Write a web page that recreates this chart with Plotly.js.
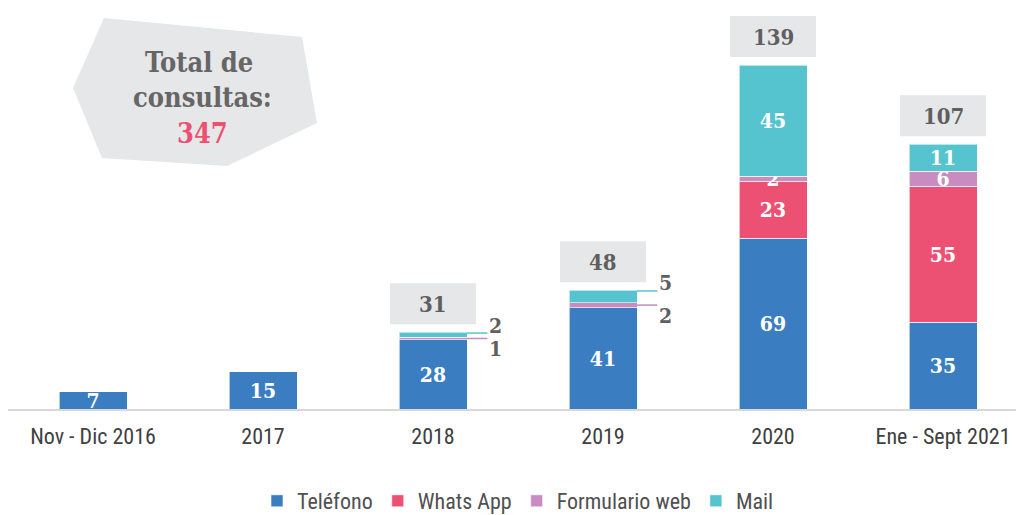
<!DOCTYPE html>
<html>
<head>
<meta charset="utf-8">
<script src="https://cdn.plot.ly/plotly-3.0.1.min.js"></script>
<style>html,body{margin:0;padding:0;background:#fff;}#chart{width:1016px;height:515px;}</style>
</head>
<body>
<div id="chart"></div>
<script>
const categories = ["Nov - Dic 2016", "2017", "2018", "2019", "2020", "Ene - Sept 2021"];
const telefono = [7, 15, 28, 41, 69, 35];
const whatsapp = [0, 0, 0, 0, 23, 55];
const formulario = [0, 0, 1, 2, 2, 6];
const mail = [0, 0, 2, 5, 45, 11];
const seriesNames = ["Teléfono", "Whats App", "Formulario web", "Mail"];
const totalConsultas = 347;

const seriesValues = [telefono, whatsapp, formulario, mail];
const colors = ["#3A7DC1", "#EC5073", "#C88CC0", "#55C4CE"];
const totals = categories.map((c, i) => seriesValues.reduce((s, arr) => s + arr[i], 0));

const W = 1016, H = 515, L = 8, T = 0, B = 106;
const plotW = W - L, plotH = H - T - B;
const pxPerUnitX = 170;
const yMax = 165.3;
const pxPerUnitY = plotH / yMax;
const px = (x) => (x - L) / plotW;
const py = (y) => (plotH + T - y) / plotH;

const serif = "DejaVu Serif Condensed, DejaVu Serif, serif";
const narrow = "Liberation Sans Narrow, Roboto Condensed, Arial Narrow, sans-serif";

function isOutside(si, i) {
  const v = seriesValues[si][i];
  return v > 0 && v < 6 && totals[i] < 100 && si > 0;
}

const traces = seriesValues.map((vals, si) => ({
  type: "bar",
  name: seriesNames[si],
  x: categories,
  y: vals,
  width: 0.4,
  marker: {color: colors[si], line: {color: "rgba(255,255,255,0.6)", width: 1}},
  text: vals.map((v, i) => (v > 0 && !isOutside(si, i)) ? String(v) : ""),
  textposition: "inside",
  insidetextanchor: "middle",
  constraintext: "none",
  textangle: 0,
  textfont: {family: serif, size: 21, color: "#ffffff", weight: 700},
  hoverinfo: "name+y"
}));

const shapes = [];
const annotations = [];

const poly = [[104,18],[302,37],[317,123],[227,166],[102,158],[73,88]];
shapes.push({
  type: "path", xref: "paper", yref: "paper",
  path: "M " + poly.map(p => px(p[0]).toFixed(4) + " " + py(p[1]).toFixed(4)).join(" L ") + " Z",
  fillcolor: "#E6E7E8", line: {width: 0}, layer: "below"
});
[["Total de", 199, 62, "#666666"], ["consultas:", 202, 97, "#666666"], [String(totalConsultas), 202, 133, "#EC5073"]].forEach(t => {
  annotations.push({xref: "paper", yref: "paper", x: px(t[1]), y: py(t[2]), text: "<b>" + t[0] + "</b>",
    showarrow: false, xanchor: "center", yanchor: "middle", font: {family: serif, size: 27, color: t[3]}});
});

const gapU = 8 / pxPerUnitY, boxU = 41 / pxPerUnitY;
categories.forEach((c, i) => {
  const nonZero = seriesValues.filter(a => a[i] > 0).length;
  if (nonZero < 2) return;
  shapes.push({type: "rect", xref: "x", yref: "y", x0: i - 0.253, x1: i + 0.253,
    y0: totals[i] + gapU, y1: totals[i] + gapU + boxU, fillcolor: "#E6E7E8", line: {width: 0}, layer: "below"});
  annotations.push({xref: "x", yref: "y", x: i, y: totals[i] + gapU + boxU / 2, text: "<b>" + totals[i] + "</b>",
    showarrow: false, xanchor: "center", yanchor: "middle", font: {family: serif, size: 22, color: "#5F5F5F"}});
});

categories.forEach((c, i) => {
  let base = 0;
  seriesValues.forEach((arr, si) => {
    const v = arr[i];
    if (isOutside(si, i)) {
      const isTop = (si === seriesValues.length - 1);
      const ly = isTop ? base + v - 0.3 : base + v / 2;
      shapes.push({type: "line", xref: "x", yref: "y", x0: i + 0.2, x1: i + 0.32, y0: ly, y1: ly,
        line: {color: colors[si], width: 1.5}});
      annotations.push({xref: "x", yref: "y", x: i + 0.37, y: ly, text: "<b>" + v + "</b>", showarrow: false,
        xanchor: "center", yanchor: "middle", yshift: isTop ? 8 : -10,
        font: {family: serif, size: 21, color: "#5F5F5F"}});
    }
    base += v;
  });
});

const layout = {
  width: W, height: H,
  margin: {l: L, r: 0, t: T, b: B, pad: 0, autoexpand: false},
  paper_bgcolor: "#ffffff", plot_bgcolor: "#ffffff",
  barmode: "stack",
  showlegend: true,
  legend: {orientation: "h", x: px(518), xanchor: "center", y: py(501), yanchor: "middle",
    font: {family: narrow, size: 22, color: "#505050"}, itemclick: false, traceorder: "normal",
    itemwidth: 30, tracegroupgap: 0},
  xaxis: {
    type: "category", range: [-0.5, -0.5 + plotW / pxPerUnitX], automargin: false,
    showline: true, linecolor: "#D9D9D9", linewidth: 1.5,
    ticks: "outside", ticklen: 7, tickcolor: "rgba(0,0,0,0)",
    tickfont: {family: narrow, size: 22, color: "#404040"},
    showgrid: false, zeroline: false, fixedrange: true
  },
  yaxis: {range: [0, yMax], visible: false, showgrid: false, zeroline: false, fixedrange: true},
  shapes: shapes,
  annotations: annotations
};

Plotly.newPlot("chart", traces, layout, {displayModeBar: false, staticPlot: true});
</script>
</body>
</html>
